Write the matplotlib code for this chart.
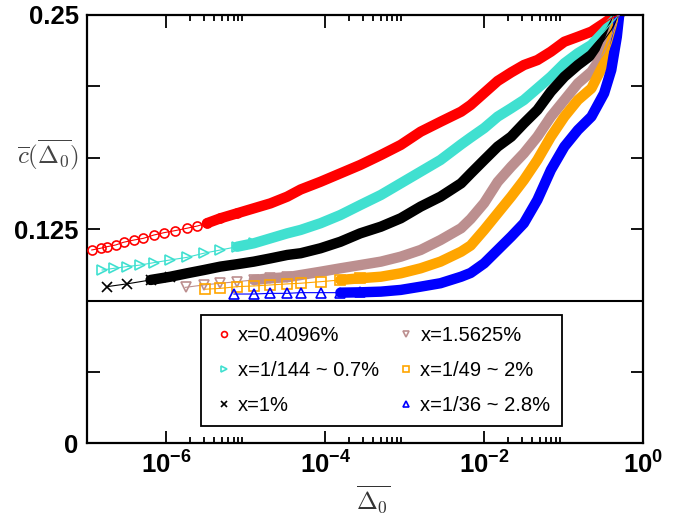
import numpy as np
import matplotlib
matplotlib.use('Agg')
import matplotlib.pyplot as plt
from matplotlib.ticker import FixedLocator, NullFormatter

plt.rcParams['font.family'] = ['Liberation Sans', 'DejaVu Sans']
plt.rcParams['mathtext.fontset'] = 'custom'
plt.rcParams['mathtext.rm'] = 'Liberation Sans'
plt.rcParams['mathtext.bf'] = 'Liberation Sans:bold'

labels = ['x=0.4096%', 'x=1/144 ~ 0.7%', 'x=1%',
          'x=1.5625%', 'x=1/49 ~ 2%', 'x=1/36 ~ 2.8%']

# shared log10(Delta_0) grid for the right-hand (dense) part
grid_right = [-4.31, -4.06, -3.81, -3.56, -3.30, -3.05, -2.80, -2.55, -2.29, -2.17,
              -2.00, -1.83, -1.66, -1.50, -1.33, -1.16, -0.99, -0.82, -0.65, -0.49,
              -0.40, -0.30]

# x = 0.4096 %
logd_a = [-6.94, -6.83, -6.75, -6.64, -6.54, -6.41, -6.29, -6.16, -6.03, -5.89,
          -5.74, -5.61, -5.49, -5.32, -5.11, -4.90, -4.69, -4.48] + grid_right
c_a = [0.1129, 0.1139, 0.1148, 0.1158, 0.1174, 0.1187, 0.1197, 0.1216, 0.1230, 0.1242,
       0.1256, 0.1269, 0.1285, 0.1314, 0.1343, 0.1372, 0.1401, 0.1440,
       0.1482, 0.1527, 0.1576, 0.1625, 0.1683, 0.1742, 0.1819, 0.1877, 0.1936, 0.1975,
       0.2045, 0.2115, 0.2165, 0.2208, 0.2237, 0.2286, 0.2344, 0.2373, 0.2403, 0.2452,
       0.2481, 0.2500]

# x = 1/144
logd_b = [-6.81, -6.66, -6.50, -6.33, -6.16, -5.95, -5.74, -5.53, -5.32, -5.11,
          -4.90, -4.69, -4.48] + grid_right
c_b = [0.1012, 0.1022, 0.1032, 0.1041, 0.1055, 0.1071, 0.1086, 0.1110, 0.1129, 0.1148,
       0.1168, 0.1197, 0.1226,
       0.1246, 0.1285, 0.1333, 0.1391, 0.1450, 0.1518, 0.1586, 0.1654, 0.1745, 0.1785,
       0.1840, 0.1907, 0.1956, 0.2004, 0.2072, 0.2140, 0.2218, 0.2277, 0.2325, 0.2403,
       0.2452, 0.2500]

# x = 1 %
logd_c = [-6.75, -6.50, -6.20, -5.95, -5.74, -5.53, -5.32, -5.11, -4.90, -4.69,
          -4.48] + grid_right
c_c = [0.0915, 0.0931, 0.0954, 0.0973, 0.0993, 0.1012, 0.1032, 0.1046, 0.1061, 0.1080,
       0.1100,
       0.1110, 0.1139, 0.1177, 0.1226, 0.1265, 0.1314, 0.1382, 0.1440, 0.1518, 0.1575,
       0.1654, 0.1732, 0.1790, 0.1868, 0.1946, 0.2053, 0.2140, 0.2208, 0.2267, 0.2354,
       0.2412, 0.2500]

# x = 1.5625 %
logd_d = [-5.76, -5.53, -5.32, -5.11, -4.90, -4.69, -4.48] + grid_right
c_d = [0.0911, 0.0925, 0.0935, 0.0944, 0.0954, 0.0964, 0.0970,
       0.0983, 0.1002, 0.1022, 0.1041, 0.1061, 0.1090, 0.1129, 0.1187, 0.1256, 0.1310,
       0.1403, 0.1526, 0.1615, 0.1693, 0.1790, 0.1907, 0.2004, 0.2101, 0.2169, 0.2277,
       0.2373, 0.2500]

# x = 1/49
logd_e = [-5.51, -5.32, -5.11, -4.90, -4.69, -4.48] + grid_right
c_e = [0.0900, 0.0905, 0.0915, 0.0919, 0.0925, 0.0931,
       0.0935, 0.0944, 0.0954, 0.0964, 0.0973, 0.0993, 0.1022, 0.1061, 0.1119, 0.1155,
       0.1246, 0.1343, 0.1440, 0.1537, 0.1654, 0.1790, 0.1907, 0.2004, 0.2072, 0.2218,
       0.2335, 0.2500]

# x = 1/36
logd_f = [-5.15, -4.90, -4.69, -4.48] + grid_right[:-1] + [-0.33, -0.30]
c_f = [0.0872, 0.0872, 0.0876, 0.0876,
       0.0880, 0.0880, 0.0880, 0.0882, 0.0886, 0.0896, 0.0915, 0.0935, 0.0973, 0.0995,
       0.1051, 0.1129, 0.1207, 0.1285, 0.1421, 0.1596, 0.1732, 0.1829, 0.1907, 0.2043,
       0.2179, 0.2373, 0.2500]

series = [(logd_a, c_a), (logd_b, c_b), (logd_c, c_c),
          (logd_d, c_d), (logd_e, c_e), (logd_f, c_f)]
colors = ['#ff0000', '#40e0d0', '#000000', '#bc8f8f', '#ffa500', '#0000ff']
markers = ['o', '>', 'x', 'v', 's', '^']
band_from = [-5.6, -5.2, -6.3, -4.95, -3.9, -3.9]

fig = plt.figure(figsize=(6.84, 5.17), dpi=100)
ax = fig.add_axes([0.1272, 0.1422, 0.8129, 0.8288])

handles = []
for (ld, cv), col, mk, bf in zip(series, colors, markers, band_from):
    ld = np.array(ld)
    xd = 10.0 ** ld
    cv = np.array(cv)
    # sparse part: thin line and open markers
    h, = ax.plot(xd, cv, color=col, lw=0.8, marker=mk, ms=6.5,
                 mfc='none', mec=col, mew=1.2, markevery=list(ld < bf + 0.5),
                 zorder=3)
    # dense part: markers pile up into a thick band
    sel = ld >= bf
    ax.plot(xd[sel], cv[sel], color=col, lw=7.5, solid_capstyle='round',
            solid_joinstyle='round', zorder=2)
    handles.append(h)

ax.axhline(1.0 / 12, color='black', lw=1.5, zorder=4)

ax.set_xscale('log')
ax.set_xlim(1e-7, 1.0)
ax.set_ylim(0, 0.25)

ax.xaxis.set_major_locator(FixedLocator([1e-6, 1e-4, 1e-2, 1.0]))
minors = [k * 10.0 ** e for e in (-6, -4, -2) for k in range(2, 10)]
ax.xaxis.set_minor_locator(FixedLocator(minors))
ax.xaxis.set_minor_formatter(NullFormatter())
ax.set_xticklabels([r'$\mathbf{10^{-6}}$', r'$\mathbf{10^{-4}}$',
                    r'$\mathbf{10^{-2}}$', r'$\mathbf{10^{0}}$'])

yt = [i / 24.0 for i in range(7)]
ax.yaxis.set_major_locator(FixedLocator(yt))
ax.set_yticklabels(['0', '', '', '0.125', '', '', '0.25'])

ax.tick_params(which='both', direction='in', top=True, right=True, width=1.3)
ax.tick_params(which='major', length=9, labelsize=18.5, pad=6)
ax.tick_params(which='minor', length=4.5)
for t in ax.get_yticklabels() + ax.get_xticklabels():
    t.set_fontweight('bold')
for s in ax.spines.values():
    s.set_linewidth(1.6)

fig.text(48 / 684, 1 - 155 / 517, r'$\overline{c}(\overline{\Delta_0})$',
         math_fontfamily='cm', fontsize=18, color='#444444',
         ha='center', va='center')
fig.text(373 / 684, 1 - 500 / 517, r'$\overline{\Delta_0}$',
         math_fontfamily='cm', fontsize=18, color='#333333',
         ha='center', va='center')

leg = ax.legend(handles, labels, ncol=2, loc='upper left',
                bbox_to_anchor=(200.7 / 684, 1 - 314.7 / 517),
                bbox_transform=fig.transFigure, borderaxespad=0,
                fontsize=14.5, markerscale=0.65, handlelength=1.2,
                handletextpad=0.1, columnspacing=0.75, labelspacing=0.8,
                borderpad=0.55, fancybox=False, framealpha=1)
leg.get_frame().set_edgecolor('black')
leg.get_frame().set_linewidth(1.3)
for ln in leg.get_lines():
    ln.set_linestyle('none')

fig.savefig('out.png', dpi=100)
